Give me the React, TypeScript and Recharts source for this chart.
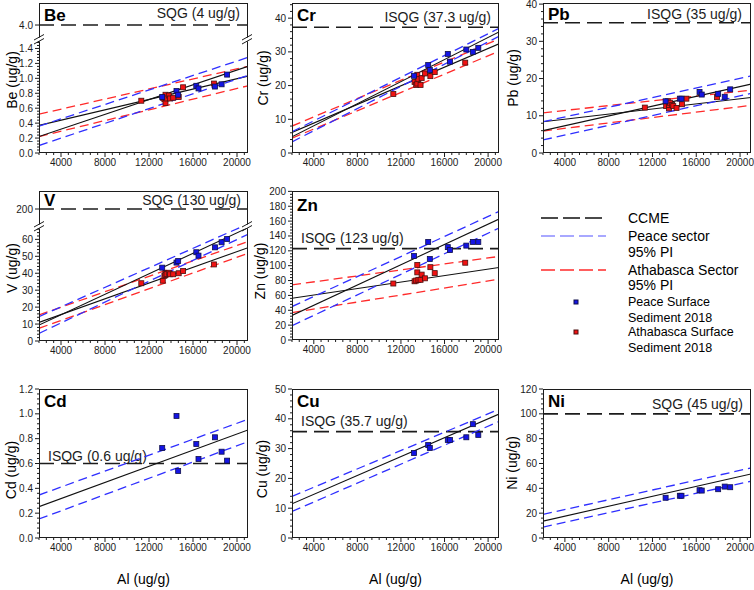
import React from "react";
import { ComposedChart, Line, Scatter, XAxis, YAxis, ReferenceLine } from "recharts";

const FONT = "'Liberation Sans', Arial, Helvetica, sans-serif";
const INK = "#1c1c1c";
const PI_BLUE = "#2f2fff";
const PI_RED = "#ff2a2a";
const DOT_BLUE = "#1414e4";
const DOT_RED = "#f01212";

// Al of the sediment samples (ug/g)
const peaceAl = [13200, 14500, 14650, 16300, 16500, 18000, 18600, 19100];
const athaAl = [11300, 13250, 13400, 13500, 13500, 13600, 13800, 13900, 14200, 14700, 15100, 17900];

// fits and 95% PI are read at both ends of the Al axis
const lineAl = [2000, 21000];
const alTicks = [4000, 8000, 12000, 16000, 20000];

// Be
const beTicks = [0, 0.2, 0.4, 0.6, 0.8, 1.0, 1.2, 1.4];
const bePeace = [0.75, 0.83, 0.78, 0.9, 0.865, 0.89, 0.92, 1.05];
const beAtha = [0.7, 0.74, 0.72, 0.78, 0.67, 0.73, 0.77, 0.73, 0.74, 0.75, 0.88, 0.93];
const beLines = { peace: [0.22, 1.16], peaceHi: [0.36, 1.28], peaceLo: [0.1, 1.04], atha: [0.37, 1.03], athaHi: [0.52, 1.16], athaLo: [0.22, 0.9] };

// Cr
const crTicks = [0, 10, 20, 30, 40];
const crPeace = [22.9, 26.1, 24.6, 29.4, 27.1, 30.7, 30.0, 31.2];
const crAtha = [17.5, 21.1, 20.2, 23.2, 20.6, 21.9, 20.2, 22.2, 23.6, 22.8, 24.0, 26.8];
const crLines = { peace: [4.8, 35.9], peaceHi: [6.3, 37.0], peaceLo: [3.3, 34.6], atha: [6.1, 32.4], athaHi: [8.0, 33.8], athaLo: [4.4, 30.2] };

// Pb
const pbTicks = [0, 10, 20, 30, 40];
const pbPeace = [13.9, 14.6, 14.6, 16.4, 15.7, 15.9, 15.1, 17.1];
const pbAtha = [12.2, 12.6, 13.9, 12.0, 12.9, 13.5, 12.9, 12.6, 12.1, 13.1, 14.6, 15.0];
const pbLines = { peace: [6.0, 18.5], peaceHi: [8.4, 20.7], peaceLo: [3.5, 16.0], atha: [8.4, 14.9], athaHi: [10.8, 16.9], athaLo: [5.9, 12.8] };

// V
const vTicks = [0, 10, 20, 30, 40, 50, 60];
const vPeace = [43.3, 46.3, 47.2, 52.4, 50.4, 55.3, 58.3, 60.2];
const vAtha = [34.1, 35.6, 38.5, 40.2, 39.0, 39.5, 40.3, 39.4, 39.4, 40.0, 41.3, 45.2];
const vLines = { peace: [9.4, 66.9], peaceHi: [14.4, 69.1], peaceLo: [4.5, 63.0], atha: [11.0, 55.1], athaHi: [15.4, 58.7], athaLo: [7.5, 51.8] };

// Zn
const znTicks = [0, 20, 40, 60, 80, 100, 120, 140, 160, 180, 200];
const znPeace = [113, 132, 109, 125, 121, 127, 132, 132];
const znAtha = [76, 79, 80, 101, 91, 81, 81, 88, 83, 98, 90, 104];
const znLines = { peace: [33, 162.7], peaceHi: [45, 173], peaceLo: [19.3, 150.6], atha: [56.2, 97.5], athaHi: [74.2, 112.4], athaLo: [36.9, 81.8] };

// Cd, Cu, Ni (Peace only)
const cdTicks = [0, 0.2, 0.4, 0.6, 0.8, 1.0, 1.2];
const cdPeace = [0.725, 0.983, 0.54, 0.757, 0.636, 0.811, 0.695, 0.623];
const cdLines = { peace: [0.252, 0.87], peaceHi: [0.346, 0.956], peaceLo: [0.153, 0.776] };

const cuTicks = [0, 10, 20, 30, 40, 50];
const cuPeace = [28.5, 31.2, 30.2, 32.9, 32.9, 33.8, 38.2, 34.6];
const cuLines = { peace: [11.5, 41.6], peaceHi: [13.95, 43.2], peaceLo: [8.9, 39.1] };

const niTicks = [0, 20, 40, 60, 80, 100, 120];
const niPeace = [32.4, 34.0, 34.0, 38.5, 38.2, 39.3, 41.4, 40.9];
const niLines = { peace: [13.6, 51.6], peaceHi: [19.0, 56.4], peaceLo: [8.8, 45.7] };

type Box = { x: number; y: number; w: number; h: number };
type Fit = { peace: number[]; peaceHi: number[]; peaceLo: number[]; atha?: number[]; athaHi?: number[]; athaLo?: number[] };
type Guide = { value: number; text: string; side: "left" | "right"; dx: number; dy: number };
type PlotProps = {
  box: Box;
  domain: [number, number];
  major: number[];
  step?: number;
  digits?: number;
  fit?: Fit;
  peace?: number[];
  atha?: number[];
  guide?: Guide;
  showX?: boolean;
};

const AX = 40;
const MT = 8;
const MR = 8;
const XH = 24;

const pts = (xs: number[], ys: number[]) => xs.map((x, i) => ({ x, y: ys[i] }));

// minor tick positions (5 per major interval on y, 6 per 4000 on x)
const tickRange = (lo: number, hi: number, step: number) => {
  const out: number[] = [];
  for (let k = Math.ceil(lo / step - 1e-6); k * step <= hi + 1e-6; k++) out.push(+(k * step).toFixed(6));
  return out;
};
const isIn = (list: number[], v: number) => list.some((m) => Math.abs(m - v) < 1e-6);
const alMinor = tickRange(2000, 21000, 2000 / 3);

const makeYTick = (major: number[], digits: number) => (p: any) => {
  const v = Number(p.payload.value);
  const big = isIn(major, v);
  const ax = p.x + 6;
  return (
    <g>
      <line x1={ax} x2={ax - (big ? 4 : 2)} y1={p.y} y2={p.y} stroke={INK} strokeWidth={1} />
      {big && (
        <text x={p.x} y={p.y} dy="0.35em" textAnchor="end" fontSize={10} fontFamily={FONT} fill={INK}>
          {v.toFixed(digits)}
        </text>
      )}
    </g>
  );
};

const xTick = (p: any) => {
  const v = Number(p.payload.value);
  const big = isIn(alTicks, v);
  const ay = p.y - 6;
  return (
    <g>
      <line x1={p.x} x2={p.x} y1={ay} y2={ay + (big ? 4 : 2)} stroke={INK} strokeWidth={1} />
      {big && (
        <text x={p.x} y={p.y} dy="0.71em" textAnchor="middle" fontSize={10} fontFamily={FONT} fill={INK}>
          {Math.round(v)}
        </text>
      )}
    </g>
  );
};

const guideLabel = (g: Guide) => (props: any) => {
  const vb = props.viewBox;
  if (!vb) return null;
  const x = g.side === "right" ? vb.x + vb.width - g.dx : vb.x + g.dx;
  return (
    <text x={x} y={vb.y - g.dy} textAnchor={g.side === "right" ? "end" : "start"} fontSize={14} fontFamily={FONT} fill={INK}>
      {g.text}
    </text>
  );
};

const square = (fill: string, edge: string) => (p: any) =>
  p.cx == null ? <g /> : <rect x={p.cx - 2.5} y={p.cy - 2.5} width={5} height={5} fill={fill} stroke={edge} strokeWidth={0.8} />;

function Plot({ box, domain, major, step, digits = 0, fit, peace, atha, guide, showX = true }: PlotProps) {
  const yTicks = step ? tickRange(domain[0], domain[1], step) : major;
  const width = box.w + AX + MR;
  const height = box.h + MT + (showX ? XH : 0);

  const series: React.ReactNode[] = [];
  const dashed = (key: string, ys: number[], color: string) => (
    <Line key={key} data={pts(lineAl, ys)} dataKey="y" type="linear" stroke={color} strokeWidth={1.3}
      strokeDasharray="9 5" dot={false} activeDot={false} isAnimationActive={false} />
  );
  const solid = (key: string, ys: number[]) => (
    <Line key={key} data={pts(lineAl, ys)} dataKey="y" type="linear" stroke="#111" strokeWidth={1.1}
      dot={false} activeDot={false} isAnimationActive={false} />
  );
  if (fit) {
    if (fit.athaHi && fit.athaLo && fit.atha) {
      series.push(dashed("ahi", fit.athaHi, PI_RED), dashed("alo", fit.athaLo, PI_RED), solid("afit", fit.atha));
    }
    series.push(dashed("phi", fit.peaceHi, PI_BLUE), dashed("plo", fit.peaceLo, PI_BLUE), solid("pfit", fit.peace));
  }
  if (atha) {
    series.push(
      <Scatter key="adots" data={pts(athaAl, atha)} fill={DOT_RED} shape={square(DOT_RED, "#4a1010")} isAnimationActive={false} />
    );
  }
  if (peace) {
    series.push(
      <Scatter key="pdots" data={pts(peaceAl, peace)} fill={DOT_BLUE} shape={square(DOT_BLUE, "#10104a")} isAnimationActive={false} />
    );
  }

  return (
    <div style={{ position: "absolute", left: box.x - AX, top: box.y - MT }}>
      <ComposedChart width={width} height={height} margin={{ top: MT, right: MR, bottom: 0, left: 0 }}>
        <XAxis type="number" dataKey="x" domain={[2000, 21000]} allowDataOverflow ticks={alMinor} interval={0}
          tick={xTick} tickLine={false} axisLine={false} tickSize={4} tickMargin={2} height={XH} hide={!showX} />
        <YAxis type="number" dataKey="y" domain={domain} allowDataOverflow ticks={yTicks} interval={0}
          tick={makeYTick(major, digits)} tickLine={false} axisLine={false} tickSize={4} tickMargin={2} width={AX} />
        {guide && (
          <ReferenceLine y={guide.value} stroke={INK} strokeWidth={1.7} strokeDasharray="15 7" label={guideLabel(guide)} />
        )}
        {series}
      </ComposedChart>
    </div>
  );
}

function AxisBreak({ x, y }: { x: number; y: number }) {
  return (
    <svg style={{ position: "absolute", left: x - 8, top: y - 8 }} width={16} height={16}>
      <rect x={5} y={5.5} width={6} height={3.8} fill="#fff" />
      <line x1={3} y1={8} x2={13} y2={2.5} stroke={INK} strokeWidth={1} />
      <line x1={3} y1={12} x2={13} y2={6.5} stroke={INK} strokeWidth={1} />
    </svg>
  );
}

type PanelDef = {
  title: string;
  frame: Box;
  titleBase: number;
  yLabel: string;
  yLabelAt: [number, number];
  plots: PlotProps[];
  breakAt?: number;
  xLabel?: boolean;
};

const panels: PanelDef[] = [
  {
    title: "Be", frame: { x: 39, y: 3, w: 209, h: 150 }, titleBase: 18, yLabel: "Be (ug/g)", yLabelAt: [12, 80], breakAt: 40,
    plots: [
      { box: { x: 39, y: 3, w: 209, h: 38 }, domain: [3.786, 4.295], major: [4], digits: 1, showX: false,
        guide: { value: 4, text: "SQG (4 ug/g)", side: "right", dx: 8, dy: 7 } },
      { box: { x: 39, y: 41, w: 209, h: 112 }, domain: [0, 1.5], major: beTicks, step: 0.04, digits: 1,
        fit: beLines, peace: bePeace, atha: beAtha },
    ],
  },
  {
    title: "Cr", frame: { x: 292, y: 3, w: 207, h: 150 }, titleBase: 18, yLabel: "Cr (ug/g)", yLabelAt: [263, 78],
    plots: [
      { box: { x: 292, y: 3, w: 207, h: 150 }, domain: [0, 44.5], major: crTicks, step: 2, fit: crLines, peace: crPeace, atha: crAtha,
        guide: { value: 37.3, text: "ISQG (37.3 ug/g)", side: "right", dx: 8, dy: 5 } },
    ],
  },
  {
    title: "Pb", frame: { x: 543, y: 3, w: 208, h: 150 }, titleBase: 17, yLabel: "Pb (ug/g)", yLabelAt: [513, 78],
    plots: [
      { box: { x: 543, y: 3, w: 208, h: 150 }, domain: [0, 40.3], major: pbTicks, step: 2, fit: pbLines, peace: pbPeace, atha: pbAtha,
        guide: { value: 35, text: "ISQG (35 ug/g)", side: "right", dx: 9, dy: 4 } },
    ],
  },
  {
    title: "V", frame: { x: 39, y: 191, w: 209, h: 150 }, titleBase: 15, yLabel: "V (ug/g)", yLabelAt: [12, 268], breakAt: 227,
    plots: [
      { box: { x: 39, y: 191, w: 209, h: 36 }, domain: [189.4, 210.6], major: [200], showX: false,
        guide: { value: 200, text: "SQG (130 ug/g)", side: "right", dx: 7, dy: 4 } },
      { box: { x: 39, y: 227, w: 209, h: 114 }, domain: [0, 67.3], major: vTicks, step: 2, fit: vLines, peace: vPeace, atha: vAtha },
    ],
  },
  {
    title: "Zn", frame: { x: 292, y: 191, w: 207, h: 149 }, titleBase: 20, yLabel: "Zn (ug/g)", yLabelAt: [260, 271],
    plots: [
      { box: { x: 292, y: 191, w: 207, h: 149 }, domain: [0, 200.5], major: znTicks, step: 4, fit: znLines, peace: znPeace, atha: znAtha,
        guide: { value: 123, text: "ISQG (123 ug/g)", side: "left", dx: 9, dy: 6 } },
    ],
  },
  {
    title: "Cd", frame: { x: 39, y: 389, w: 209, h: 149 }, titleBase: 18, yLabel: "Cd (ug/g)", yLabelAt: [11, 470], xLabel: true,
    plots: [
      { box: { x: 39, y: 389, w: 209, h: 149 }, domain: [0, 1.2], major: cdTicks, step: 0.04, digits: 1, fit: cdLines, peace: cdPeace,
        guide: { value: 0.6, text: "ISQG (0.6 ug/g)", side: "left", dx: 9, dy: 3 } },
    ],
  },
  {
    title: "Cu", frame: { x: 292, y: 389, w: 207, h: 149 }, titleBase: 18, yLabel: "Cu (ug/g)", yLabelAt: [262, 469], xLabel: true,
    plots: [
      { box: { x: 292, y: 389, w: 207, h: 149 }, domain: [0, 50], major: cuTicks, step: 2, fit: cuLines, peace: cuPeace,
        guide: { value: 35.7, text: "ISQG (35.7 ug/g)", side: "left", dx: 9, dy: 6 } },
    ],
  },
  {
    title: "Ni", frame: { x: 543, y: 389, w: 208, h: 149 }, titleBase: 18, yLabel: "Ni (ug/g)", yLabelAt: [512, 463], xLabel: true,
    plots: [
      { box: { x: 543, y: 389, w: 208, h: 149 }, domain: [0, 120], major: niTicks, step: 4, fit: niLines, peace: niPeace,
        guide: { value: 100, text: "SQG (45 ug/g)", side: "right", dx: 8, dy: 5 } },
    ],
  },
];

function Panel({ p }: { p: PanelDef }) {
  const f = p.frame;
  return (
    <>
      {p.plots.map((pl, i) => (
        <Plot key={i} {...pl} />
      ))}
      <div style={{ position: "absolute", left: f.x, top: f.y, width: f.w, height: f.h, border: `1px solid ${INK}`, boxSizing: "border-box", pointerEvents: "none" }} />
      {p.breakAt != null && <AxisBreak x={f.x} y={p.breakAt} />}
      {p.breakAt != null && <AxisBreak x={f.x + f.w - 1} y={p.breakAt} />}
      <div style={{ position: "absolute", left: f.x + 5, top: f.y + p.titleBase - 14, fontSize: 17, lineHeight: "17px", fontWeight: "bold", fontFamily: FONT, color: "#000" }}>
        {p.title}
      </div>
      <div style={{ position: "absolute", left: p.yLabelAt[0], top: p.yLabelAt[1], transform: "translate(-50%, -50%) rotate(-90deg)", fontSize: 14, lineHeight: "14px", fontFamily: FONT, whiteSpace: "nowrap", color: "#000" }}>
        {p.yLabel}
      </div>
      {p.xLabel && (
        <div style={{ position: "absolute", left: f.x + f.w / 2, top: 579, transform: "translate(-50%, -50%)", fontSize: 14, lineHeight: "14px", fontFamily: FONT, whiteSpace: "nowrap", color: "#000" }}>
          Al (ug/g)
        </div>
      )}
    </>
  );
}

function LegendBox() {
  const L = 530;
  const T = 200;
  const txt = (x: number, y: number, s: string, size: number) => (
    <text x={x - L} y={y - T} dy="0.35em" fontSize={size} fontFamily={FONT} fill="#000">
      {s}
    </text>
  );
  return (
    <svg style={{ position: "absolute", left: L, top: T }} width={224} height={160}>
      <line x1={541 - L} x2={603 - L} y1={218 - T} y2={218 - T} stroke="#4a4a4a" strokeWidth={2} strokeDasharray="17 5" />
      {txt(628, 218, "CCME", 14)}
      <line x1={541 - L} x2={606 - L} y1={236 - T} y2={236 - T} stroke="#8c8cff" strokeWidth={1.6} strokeDasharray="14 5" />
      {txt(628, 236, "Peace sector", 14)}
      {txt(628, 252, "95% PI", 14)}
      <line x1={541 - L} x2={606 - L} y1={270 - T} y2={270 - T} stroke="#ff2a2a" strokeWidth={1.3} strokeDasharray="14 5" />
      {txt(628, 270, "Athabasca Sector", 14)}
      {txt(628, 285, "95% PI", 14)}
      <rect x={574 - L} y={300 - T} width={4} height={4} fill={DOT_BLUE} stroke="#10104a" />
      {txt(628, 302, "Peace Surface", 12.5)}
      {txt(628, 317.5, "Sediment 2018", 12.5)}
      <rect x={574 - L} y={330 - T} width={4} height={4} fill={DOT_RED} stroke="#4a1010" />
      {txt(628, 332, "Athabasca Surface", 12.5)}
      {txt(628, 348, "Sediment 2018", 12.5)}
    </svg>
  );
}

export default function App() {
  return (
    <div style={{ position: "absolute", left: 0, top: 0, width: 754, height: 590, overflow: "hidden", background: "#fff" }}>
      {panels.map((p) => (
        <Panel key={p.title} p={p} />
      ))}
      <LegendBox />
    </div>
  );
}
